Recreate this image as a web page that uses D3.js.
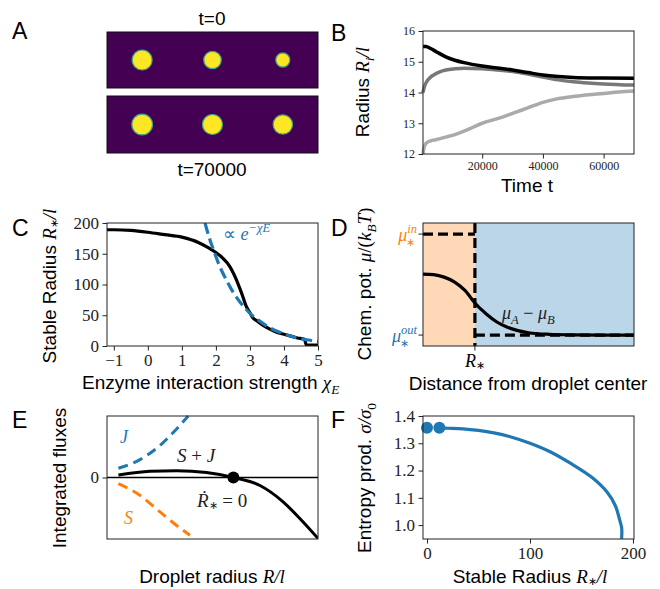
<!DOCTYPE html>
<html><head><meta charset="utf-8">
<script src="https://cdn.jsdelivr.net/npm/d3@7"></script>
<style>body{margin:0;background:#fff}</style>
</head><body>
<svg id="fig" width="660" height="589"></svg>
<script>
// ---------------- data ----------------
// Panel A: droplet slots and radii (in slot units)
const dropletSlots = [0.5, 1.5, 2.5];
const radiusT0 = [0.142, 0.124, 0.100];
const radiusT70000 = [0.147, 0.142, 0.138];

// Panel B: radius vs time
const timeBig = [500, 1500, 3000, 5000, 8000, 11000, 14000, 20000, 25000, 30000, 35000, 40000, 45000, 50000, 60000, 70000];
const radiusBig = [15.5, 15.5, 15.43, 15.32, 15.16, 15.05, 14.97, 14.86, 14.8, 14.73, 14.65, 14.57, 14.52, 14.49, 14.47, 14.46];
const timeMid = [500, 1000, 1700, 3000, 4000, 6000, 8000, 11000, 14000, 20000, 25000, 30000, 35000, 40000, 45000, 50000, 55000, 60000, 70000];
const radiusMid = [14.0, 14.2, 14.35, 14.5, 14.57, 14.67, 14.73, 14.77, 14.79, 14.77, 14.73, 14.68, 14.6, 14.5, 14.41, 14.35, 14.31, 14.28, 14.24];
const timeSmall = [500, 800, 1500, 3000, 5000, 8000, 11000, 14000, 17000, 20000, 25000, 30000, 35000, 40000, 45000, 50000, 55000, 60000, 65000, 70000];
const radiusSmall = [12.0, 12.2, 12.35, 12.43, 12.47, 12.55, 12.63, 12.74, 12.87, 13.0, 13.15, 13.32, 13.5, 13.68, 13.8, 13.87, 13.93, 13.97, 14.02, 14.05];
const ticksBx = [20000, 40000, 60000];
const ticksBy = [12, 13, 14, 15, 16];

// Panel C: stable radius vs chi_E
const chiC = [-1.2, -1, -0.5, 0, 0.5, 1, 1.5, 1.8, 2.0, 2.2, 2.4, 2.5, 2.6, 2.7, 2.8, 2.88, 3.0, 3.07, 3.2, 3.4, 3.6, 3.8, 4.0, 4.2, 4.4, 4.6, 4.66, 5.0];
const radiusC = [189, 189, 188, 185, 181, 177, 168, 159, 152, 143, 130, 120, 108, 94, 79, 66, 54, 47, 41, 33, 27, 22, 19, 16, 13, 11, 1.5, 1.5];
const chiFit = [1.68, 1.8, 1.95, 2.1, 2.3, 2.5, 2.7, 2.9, 3.1, 3.3, 3.6, 4.0, 4.4, 4.8, 5.0];
const radiusFit = [200, 177, 153, 131, 108, 88, 72, 59, 48, 40, 29, 20, 13, 9, 7.3];
const ticksCx = [-1, 0, 1, 2, 3, 4, 5];
const ticksCy = [0, 50, 100, 150, 200];

// Panel D: chemical potential profile (arbitrary units)
const rStar = 0.246;
const muIn = 0.91;
const muOut = 0.089;
const distD = [0, 0.05, 0.1, 0.15, 0.2, 0.246, 0.3, 0.35, 0.4, 0.45, 0.5, 0.6, 0.7, 0.85, 1.0];
const muD = [0.585, 0.58, 0.56, 0.52, 0.45, 0.35, 0.26, 0.195, 0.152, 0.125, 0.108, 0.095, 0.091, 0.089, 0.089];

// Panel E: integrated fluxes (arbitrary units)
const radJ = [0.054, 0.156, 0.251, 0.33, 0.385];
const fluxJ = [0.15, 0.29, 0.52, 0.79, 1.0];
const radS = [0.054, 0.156, 0.251, 0.33, 0.393];
const fluxS = [-0.10, -0.29, -0.56, -0.78, -0.94];
const radSJ = [0.054, 0.204, 0.33, 0.472, 0.599, 0.725, 0.836, 0.915, 1.0];
const fluxSJ = [0.04, 0.10, 0.11, 0.08, 0.0, -0.13, -0.40, -0.67, -0.99];
const rootE = [0.599, 0.0];

// Panel F: entropy production vs stable radius
const radiusF = [12, 20, 35, 50, 65, 80, 100, 120, 140, 160, 175, 183, 187, 189, 189];
const sigmaF = [1.356, 1.355, 1.353, 1.347, 1.338, 1.325, 1.30, 1.268, 1.225, 1.175, 1.12, 1.07, 1.02, 0.99, 0.95];
const dotsFr = [0, 12];
const dotsFs = [1.357, 1.357];
const ticksFx = [0, 100, 200];
const ticksFy = [1.0, 1.1, 1.2, 1.3, 1.4];

// ---------------- drawing ----------------
const SANS = "'Liberation Sans', Arial, Helvetica, sans-serif";
const SERIF = "'Liberation Serif', 'Times New Roman', serif";
const BLUE = '#1f77b4', ORANGE = '#ff7f0e';
const LAB = 19, TICK = 17;
const svg = d3.select('#fig');
svg.append('rect').attr('width', 660).attr('height', 589).attr('fill', '#fff');

// parts: {t, f:'sans'|'it'|'rm', sub, sup, star, dx, c}
function mtext(g, x, y, parts, size, anchor, rotate, color) {
  const t = g.append('text').attr('x', x).attr('y', y).attr('font-size', size)
    .attr('text-anchor', anchor || 'start').attr('fill', color || '#000');
  if (rotate) t.attr('transform', `rotate(${rotate},${x},${y})`);
  let shift = 0;
  parts.forEach(p => {
    const s = t.append('tspan').text(p.t);
    s.attr('font-family', p.f === 'sans' ? SANS : SERIF);
    if (p.f === 'it') s.attr('font-style', 'italic');
    let target = 0;
    if (p.star) { target = size * 0.12; s.attr('font-size', size * 0.6); }
    else if (p.sub) { target = size * 0.28; s.attr('font-size', size * 0.7); }
    else if (p.sup) { target = -size * 0.42; s.attr('font-size', size * 0.7); }
    s.attr('dy', target - shift); shift = target;
    if (p.dx) s.attr('dx', p.dx);
    if (p.c) s.attr('fill', p.c);
  });
  return t;
}
const STAR = {t: '\u2217', f: 'rm', star: true};
function letter(x, y, s) {
  svg.append('text').attr('x', x).attr('y', y).attr('font-family', SANS).attr('font-size', 23).text(s);
}
function frame(x, y) {
  svg.append('rect').attr('x', x.range()[0]).attr('y', y.range()[1])
    .attr('width', x.range()[1] - x.range()[0]).attr('height', y.range()[0] - y.range()[1])
    .attr('fill', 'none').attr('stroke', '#222').attr('stroke-width', 1);
}
function styleAxis(g, size) {
  g.select('.domain').remove();
  g.selectAll('.tick line').attr('stroke', '#222').attr('stroke-width', 1);
  g.selectAll('.tick text').attr('font-family', SERIF).attr('font-size', size).attr('fill', '#222');
}
function axes(x, y, xt, yt, size, xfmt, yfmt) {
  if (xt) {
    const ax = d3.axisBottom(x).tickValues(xt).tickSize(4.5).tickPadding(3).tickFormat(xfmt || (d => d));
    styleAxis(svg.append('g').attr('transform', `translate(0,${y.range()[0]})`).call(ax), size);
  }
  if (yt) {
    const ay = d3.axisLeft(y).tickValues(yt).tickSize(4.5).tickPadding(3.5).tickFormat(yfmt || (d => d));
    styleAxis(svg.append('g').attr('transform', `translate(${x.range()[0]},0)`).call(ay), size);
  }
}
const minus = d => (d < 0 ? '\u2212' + Math.abs(d) : String(d));

// ---- Panel A ----
letter(12, 39, 'A');
const xA = d3.scaleLinear().domain([0, 3]).range([107, 318]);
[[32, 88, radiusT0], [96, 153, radiusT70000]].forEach(([top, bot, radii]) => {
  svg.append('rect').attr('x', 107).attr('y', top).attr('width', 211).attr('height', bot - top)
    .attr('fill', '#440154').attr('stroke', '#111').attr('stroke-width', 1);
  const cy = (top + bot) / 2;
  svg.selectAll(null).data(dropletSlots).enter().append('circle')
    .attr('cx', d => xA(d)).attr('cy', cy)
    .attr('r', (d, i) => xA(radii[i]) - xA(0))
    .attr('fill', '#fde725').attr('stroke', '#3fa58a').attr('stroke-width', 1.2);
});
svg.append('text').attr('x', 212).attr('y', 25).attr('text-anchor', 'middle').attr('font-family', SANS).attr('font-size', LAB).text('t=0');
svg.append('text').attr('x', 212).attr('y', 176).attr('text-anchor', 'middle').attr('font-family', SANS).attr('font-size', LAB).text('t=70000');

// ---- Panel B ----
letter(331, 41, 'B');
const xB = d3.scaleLinear().domain([500, 70000]).range([423, 634]);
const yB = d3.scaleLinear().domain([12, 16]).range([154, 31]);
const lineB = (ts, vs) => d3.line().curve(d3.curveMonotoneX).x((d, i) => xB(ts[i])).y((d, i) => yB(vs[i]))(vs);
const gB = svg.append('g');
gB.append('path').attr('d', lineB(timeSmall, radiusSmall)).attr('fill', 'none').attr('stroke', '#aaaaaa').attr('stroke-width', 3.5);
gB.append('path').attr('d', lineB(timeMid, radiusMid)).attr('fill', 'none').attr('stroke', '#787878').attr('stroke-width', 3.5);
gB.append('path').attr('d', lineB(timeBig, radiusBig)).attr('fill', 'none').attr('stroke', '#000').attr('stroke-width', 3.5);
frame(xB, yB);
axes(xB, yB, ticksBx, ticksBy, 12);
mtext(svg, 369, 92, [{t: 'Radius ', f: 'sans'}, {t: 'R', f: 'it'}, {t: 'i', f: 'it', sub: true}, {t: '/', f: 'it'}, {t: 'l', f: 'it'}], LAB, 'middle', -90);
mtext(svg, 527, 192, [{t: 'Time t', f: 'sans'}], LAB, 'middle');

// ---- Panel C ----
letter(12, 236, 'C');
const xC = d3.scaleLinear().domain([-1.2, 5]).range([107, 318]);
const yC = d3.scaleLinear().domain([0, 200]).range([346, 223]);
svg.append('clipPath').attr('id', 'clipC').append('rect').attr('x', 107).attr('y', 223).attr('width', 211).attr('height', 123);
const gC = svg.append('g').attr('clip-path', 'url(#clipC)');
gC.append('path').attr('d', d3.line().curve(d3.curveMonotoneX).x((d, i) => xC(chiC[i])).y(d => yC(d))(radiusC))
  .attr('fill', 'none').attr('stroke', '#000').attr('stroke-width', 3.2);
gC.append('path').attr('d', d3.line().curve(d3.curveMonotoneX).x((d, i) => xC(chiFit[i])).y(d => yC(d))(radiusFit))
  .attr('fill', 'none').attr('stroke', BLUE).attr('stroke-width', 3.2).attr('stroke-dasharray', '11,5');
frame(xC, yC);
axes(xC, yC, ticksCx, ticksCy, TICK, minus);
mtext(svg, 223, 240, [{t: '\u221D ', f: 'rm'}, {t: 'e', f: 'it'}, {t: '\u2212\u03C7', f: 'it', sup: true}, {t: 'E', f: 'it', sup: true}], 18, 'start', 0, BLUE);
mtext(svg, 56, 286, [{t: 'Stable Radius ', f: 'sans'}, {t: 'R', f: 'it'}, STAR, {t: '/', f: 'it'}, {t: 'l', f: 'it'}], LAB, 'middle', -90);
mtext(svg, 82, 389, [{t: 'Enzyme interaction strength ', f: 'sans'}, {t: '\u03C7', f: 'it'}, {t: 'E', f: 'it', sub: true}], LAB, 'start');

// ---- Panel D ----
letter(331, 236, 'D');
const xD = d3.scaleLinear().domain([0, 1]).range([423, 634]);
const yD = d3.scaleLinear().domain([0, 1]).range([346, 223]);
svg.append('rect').attr('x', xD(0)).attr('y', yD(1)).attr('width', xD(rStar) - xD(0)).attr('height', yD(0) - yD(1)).attr('fill', '#ffd9b7');
svg.append('rect').attr('x', xD(rStar)).attr('y', yD(1)).attr('width', xD(1) - xD(rStar)).attr('height', yD(0) - yD(1)).attr('fill', '#bcd6e9');
svg.append('path').attr('d', d3.line().curve(d3.curveMonotoneX).x((d, i) => xD(distD[i])).y(d => yD(d))(muD))
  .attr('fill', 'none').attr('stroke', '#000').attr('stroke-width', 3.2);
function dline(x1, y1, x2, y2) {
  svg.append('line').attr('x1', x1).attr('y1', y1).attr('x2', x2).attr('y2', y2)
    .attr('stroke', '#000').attr('stroke-width', 3.2).attr('stroke-dasharray', '10,5');
}
dline(xD(0), yD(muIn), xD(rStar), yD(muIn));
dline(xD(rStar), yD(1), xD(rStar), yD(0));
dline(xD(rStar), yD(muOut), xD(1), yD(muOut));
frame(xD, yD);
[yD(muIn), yD(muOut)].forEach(yy => svg.append('line').attr('x1', 418.5).attr('x2', 423).attr('y1', yy).attr('y2', yy).attr('stroke', '#222'));
svg.append('line').attr('x1', xD(rStar)).attr('x2', xD(rStar)).attr('y1', 346).attr('y2', 350.5).attr('stroke', '#222');
// stacked sup/sub tick labels, right-aligned at x=417
function muLabel(yy, sup, color) {
  const g = svg.append('g').attr('fill', color);
  const mu = g.append('text').attr('y', yy + 7).attr('font-family', SERIF).attr('font-style', 'italic').attr('font-size', 18).text('\u03BC');
  const su = g.append('text').attr('y', yy - 1).attr('font-family', SERIF).attr('font-style', 'italic').attr('font-size', 12.5).text(sup);
  const st = g.append('text').attr('y', yy + 12).attr('font-family', SERIF).attr('font-size', 11).text('\u2217');
  const wm = mu.node().getComputedTextLength(), ws = su.node().getComputedTextLength();
  const x0 = 417 - ws - wm;
  mu.attr('x', x0); su.attr('x', x0 + wm); st.attr('x', x0 + wm - 1);
}
muLabel(yD(muIn), 'in', ORANGE);
muLabel(yD(muOut), 'out', BLUE);
mtext(svg, xD(rStar), 367, [{t: 'R', f: 'it'}, STAR], 18, 'middle');
mtext(svg, 502, 319, [{t: '\u03BC', f: 'it'}, {t: 'A', f: 'it', sub: true}, {t: ' \u2212 ', f: 'rm'}, {t: '\u03BC', f: 'it'}, {t: 'B', f: 'it', sub: true}], 18, 'start', 0, '#222');
mtext(svg, 371, 284, [{t: 'Chem. pot. ', f: 'sans'}, {t: '\u03BC', f: 'it'}, {t: '/(', f: 'rm'}, {t: 'k', f: 'it'}, {t: 'B', f: 'it', sub: true}, {t: 'T', f: 'it'}, {t: ')', f: 'rm'}], LAB, 'middle', -90);
mtext(svg, 528, 390, [{t: 'Distance from droplet center', f: 'sans'}], LAB, 'middle');

// ---- Panel E ----
letter(12, 428, 'E');
const xE = d3.scaleLinear().domain([0, 1]).range([107, 318]);
const yE = d3.scaleLinear().domain([-1, 1]).range([539, 416]);
const lineE = (xs, ys) => d3.line().curve(d3.curveMonotoneX).x((d, i) => xE(xs[i])).y(d => yE(d))(ys);
svg.append('line').attr('x1', 107).attr('x2', 318).attr('y1', yE(0)).attr('y2', yE(0)).attr('stroke', '#000').attr('stroke-width', 1.5);
svg.append('path').attr('d', lineE(radJ, fluxJ)).attr('fill', 'none').attr('stroke', BLUE).attr('stroke-width', 3).attr('stroke-dasharray', '10,6');
svg.append('path').attr('d', lineE(radS, fluxS)).attr('fill', 'none').attr('stroke', ORANGE).attr('stroke-width', 3).attr('stroke-dasharray', '10,6');
svg.append('clipPath').attr('id', 'clipE').append('rect').attr('x', 107).attr('y', 416).attr('width', 211).attr('height', 123);
svg.append('g').attr('clip-path', 'url(#clipE)').append('path').attr('d', lineE(radSJ, fluxSJ)).attr('fill', 'none').attr('stroke', '#000').attr('stroke-width', 3);
svg.append('circle').attr('cx', xE(rootE[0])).attr('cy', yE(rootE[1])).attr('r', 6).attr('fill', '#000');
frame(xE, yE);
axes(xE, yE, null, [0], TICK);
mtext(svg, 120, 443, [{t: 'J', f: 'it'}], 18, 'start', 0, BLUE);
mtext(svg, 124, 524, [{t: 'S', f: 'it'}], 18, 'start', 0, ORANGE);
mtext(svg, 177, 462, [{t: 'S', f: 'it'}, {t: ' + ', f: 'rm'}, {t: 'J', f: 'it'}], 19, 'start', 0, '#222');
mtext(svg, 197, 507, [{t: '\u1E58', f: 'it'}, STAR, {t: ' = 0', f: 'rm'}], 19, 'start', 0, '#222');
mtext(svg, 66, 478, [{t: 'Integrated fluxes', f: 'sans'}], LAB, 'middle', -90);
mtext(svg, 212, 583, [{t: 'Droplet radius ', f: 'sans'}, {t: 'R', f: 'it'}, {t: '/', f: 'it'}, {t: 'l', f: 'it'}], LAB, 'middle');

// ---- Panel F ----
letter(331, 428, 'F');
const xF = d3.scaleLinear().domain([-3.9, 201]).range([423, 634]);
const yF = d3.scaleLinear().domain([0.949, 1.4]).range([539, 416]);
svg.append('path').attr('d', d3.line().curve(d3.curveCatmullRom.alpha(0.5)).x((d, i) => xF(radiusF[i])).y(d => yF(d))(sigmaF))
  .attr('fill', 'none').attr('stroke', BLUE).attr('stroke-width', 3.2);
svg.selectAll(null).data(dotsFr).enter().append('circle')
  .attr('cx', d => xF(d)).attr('cy', (d, i) => yF(dotsFs[i])).attr('r', 6).attr('fill', BLUE);
frame(xF, yF);
axes(xF, yF, ticksFx, ticksFy, TICK, null, d => d.toFixed(1));
mtext(svg, 371, 478, [{t: 'Entropy prod. ', f: 'sans'}, {t: '\u03C3', f: 'it'}, {t: '/', f: 'it'}, {t: '\u03C3', f: 'it'}, {t: '0', f: 'rm', sub: true}], LAB, 'middle', -90);
mtext(svg, 530, 583, [{t: 'Stable Radius ', f: 'sans'}, {t: 'R', f: 'it'}, STAR, {t: '/', f: 'it'}, {t: 'l', f: 'it'}], LAB, 'middle');
</script>
</body></html>
